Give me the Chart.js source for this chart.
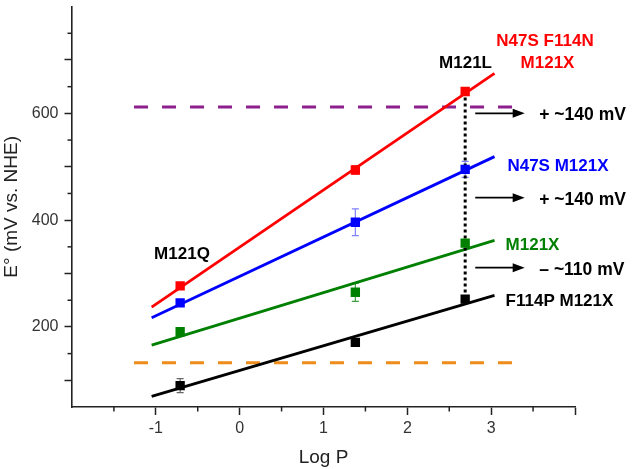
<!DOCTYPE html>
<html><head><meta charset="utf-8">
<script src="https://cdn.jsdelivr.net/npm/chart.js@4.4.0/dist/chart.umd.min.js"></script>
<style>html,body{margin:0;padding:0;background:#fff;}#wrap{width:633px;height:469px;}</style>
</head><body><div id="wrap"><canvas id="c" width="633" height="469"></canvas></div>
<script>
// ---- data ----
const logP = [-0.71, 1.38, 2.69];
const redE = [277, 494, 641];
const blueE = [245, 396, 495];
const greenE = [191, 265, 357];
const blackE = [90, 171, 252];
const redErr = [4, 8, 4];
const blueErr = [6, 25, 15];
const greenErr = [4, 17, 5];
const blackErr = [13, 4, 5];
const fitX = [-1.05, 3.04];
const redFit = [237, 675];
const blueFit = [217, 519];
const greenFit = [166, 362];
const blackFit = [70, 259];
const refX = [-1.26, 3.25];
const purpleRef = [612, 612];
const orangeRef = [133, 133];
const dottedX = [2.69, 2.69];
const dottedE = [641, 252];
const arrowX = [2.81, 3.40];
const arrowE = [600, 442, 311];
const arrowLabels = ['+ ~140 mV', '+ ~140 mV', '\u2013 ~110 mV'];
const seriesLabels = ['N47S F114N', 'M121X', 'M121L', 'N47S M121X', 'M121X', 'F114P M121X', 'M121Q'];
const xTickLabels = ['-1', '0', '1', '2', '3'];
const yTickLabels = ['200', '400', '600'];

const FONT = "'Liberation Sans', Arial, sans-serif";
const RED = '#FF0000', BLUE = '#0000FF', GREEN = '#008000', BLACK = '#000000';

const pts = (xs, ys) => xs.map((x, i) => ({x, y: ys[i]}));

function lineDs(xs, ys, color, width, dash, order) {
  return {type: 'line', data: pts(xs, ys), borderColor: color, borderWidth: width,
    borderDash: dash || [], pointRadius: 0, showLine: true, fill: false, order: order, tension: 0};
}
function pointDs(ys, color) {
  return {type: 'scatter', data: pts(logP, ys), pointStyle: 'rect', pointRadius: 6.6,
    pointBackgroundColor: color, pointBorderColor: color, pointBorderWidth: 0, showLine: false, order: 1};
}

const errorSets = [
  {ys: redE, err: redErr, color: 'rgba(255,0,0,0.6)'},
  {ys: blueE, err: blueErr, color: 'rgba(60,60,255,0.65)'},
  {ys: greenE, err: greenErr, color: 'rgba(0,128,0,0.75)'},
  {ys: blackE, err: blackErr, color: 'rgba(0,0,0,0.6)'}
];

// label placement (data coords) and colours
const labelPos = [
  {x: 3.642, y: 738, color: RED},
  {x: 3.672, y: 697, color: RED},
  {x: 2.694, y: 697, color: BLACK},
  {x: 3.797, y: 503, color: BLUE},
  {x: 3.493, y: 356, color: GREEN},
  {x: 3.815, y: 251, color: BLACK},
  {x: -0.688, y: 338, color: BLACK}
];

const deco = {
  id: 'deco',
  beforeDatasetsDraw(chart) {
    const c = chart.ctx, xs = chart.scales.x, ys = chart.scales.y;
    c.save();
    errorSets.forEach(s => {
      c.strokeStyle = s.color; c.lineWidth = 1.2;
      logP.forEach((x, i) => {
        const px = xs.getPixelForValue(x);
        const t = ys.getPixelForValue(s.ys[i] + s.err[i]);
        const b = ys.getPixelForValue(s.ys[i] - s.err[i]);
        c.beginPath();
        c.moveTo(px, t); c.lineTo(px, b);
        c.moveTo(px - 3.5, t); c.lineTo(px + 3.5, t);
        c.moveTo(px - 3.5, b); c.lineTo(px + 3.5, b);
        c.stroke();
      });
    });
    c.restore();
  },
  afterDraw(chart) {
    const c = chart.ctx, xs = chart.scales.x, ys = chart.scales.y;
    c.save();
    // minor ticks
    c.strokeStyle = '#222'; c.lineWidth = 1.5;
    const xb = ys.getPixelForValue(ys.min);
    for (let v = xs.min + 0.5; v < xs.max; v += 1) {
      const p = xs.getPixelForValue(v);
      c.beginPath(); c.moveTo(p, xb); c.lineTo(p, xb + 4.5); c.stroke();
    }
    const yl = xs.getPixelForValue(xs.min);
    for (let v = 150; v < ys.max; v += 100) {
      const p = ys.getPixelForValue(v);
      c.beginPath(); c.moveTo(yl, p); c.lineTo(yl - 4.5, p); c.stroke();
    }
    // arrows
    c.strokeStyle = '#000'; c.fillStyle = '#000'; c.lineWidth = 1.8;
    arrowE.forEach((e, i) => {
      const x0 = xs.getPixelForValue(arrowX[0]), x1 = xs.getPixelForValue(arrowX[1]);
      const y = ys.getPixelForValue(e);
      c.beginPath(); c.moveTo(x0, y); c.lineTo(x1 - 8, y); c.stroke();
      c.beginPath(); c.moveTo(x1, y); c.lineTo(x1 - 12, y - 4.5); c.lineTo(x1 - 12, y + 4.5); c.closePath(); c.fill();
      c.font = 'bold 17.5px ' + FONT; c.textAlign = 'left'; c.textBaseline = 'alphabetic';
      c.fillText(arrowLabels[i], xs.getPixelForValue(3.574), y + 7);
    });
    // series labels
    c.font = 'bold 17px ' + FONT; c.textAlign = 'center'; c.textBaseline = 'alphabetic';
    seriesLabels.forEach((t, i) => {
      const p = labelPos[i];
      c.fillStyle = p.color;
      c.fillText(t, xs.getPixelForValue(p.x), ys.getPixelForValue(p.y) + 6);
    });
    c.restore();
  }
};

new Chart(document.getElementById('c'), {
  type: 'scatter',
  data: {
    datasets: [
      lineDs(refX, purpleRef, '#8E1F8E', 3, [14, 14], 10),
      lineDs(refX, orangeRef, '#EE8C1A', 3, [14, 14], 10),
      lineDs(fitX, redFit, RED, 2.8, null, 5),
      lineDs(fitX, blueFit, BLUE, 2.8, null, 5),
      lineDs(fitX, greenFit, GREEN, 2.8, null, 5),
      lineDs(fitX, blackFit, BLACK, 2.8, null, 5),
      lineDs(dottedX, dottedE, BLACK, 3, [3, 3], 3),
      pointDs(redE, RED),
      pointDs(blueE, BLUE),
      pointDs(greenE, GREEN),
      pointDs(blackE, BLACK)
    ]
  },
  options: {
    responsive: false, animation: false, devicePixelRatio: 1,
    layout: {padding: {left: 0, right: 58, top: 0, bottom: 0}},
    plugins: {legend: {display: false}, tooltip: {enabled: false}},
    scales: {
      x: {
        type: 'linear', min: -2, max: 4,
        afterFit: s => { s.height = 62; s.paddingLeft = 0; s.paddingRight = 0; },
        ticks: {stepSize: 1, autoSkip: false, maxRotation: 0, padding: 4, color: '#333',
          font: {family: FONT, size: 16},
          callback: v => { const i = Math.round(v) + 1; return (i >= 0 && i < xTickLabels.length) ? xTickLabels[i] : ''; }},
        grid: {display: true, drawOnChartArea: false, drawTicks: true, tickLength: 8, tickWidth: 1.5,
          tickColor: c => (c.tick && c.tick.value === -2) ? 'rgba(0,0,0,0)' : '#222'},
        border: {display: true, color: '#222', width: 1.6},
        title: {display: true, text: 'Log P', color: '#222', font: {family: FONT, size: 19}, padding: {top: 0, bottom: 0}}
      },
      y: {
        type: 'linear', min: 50, max: 800,
        afterFit: s => { s.width = 72; s.paddingTop = 0; s.paddingBottom = 0; },
        ticks: {stepSize: 100, autoSkip: false, padding: 6, color: '#333',
          font: {family: FONT, size: 16},
          callback: v => { const i = yTickLabels.indexOf(String(v)); return i >= 0 ? yTickLabels[i] : ''; }},
        grid: {display: true, drawOnChartArea: false, drawTicks: true, tickLength: 7.5, tickWidth: 1.5,
          tickColor: c => (c.tick && (c.tick.value === 50 || c.tick.value === 800)) ? 'rgba(0,0,0,0)' : '#222'},
        border: {display: true, color: '#222', width: 1.6},
        title: {display: true, text: 'E\u00B0 (mV vs. NHE)', color: '#222', font: {family: FONT, size: 19}, padding: {top: 0, bottom: 0}}
      }
    }
  },
  plugins: [deco]
});
</script>
</body></html>
